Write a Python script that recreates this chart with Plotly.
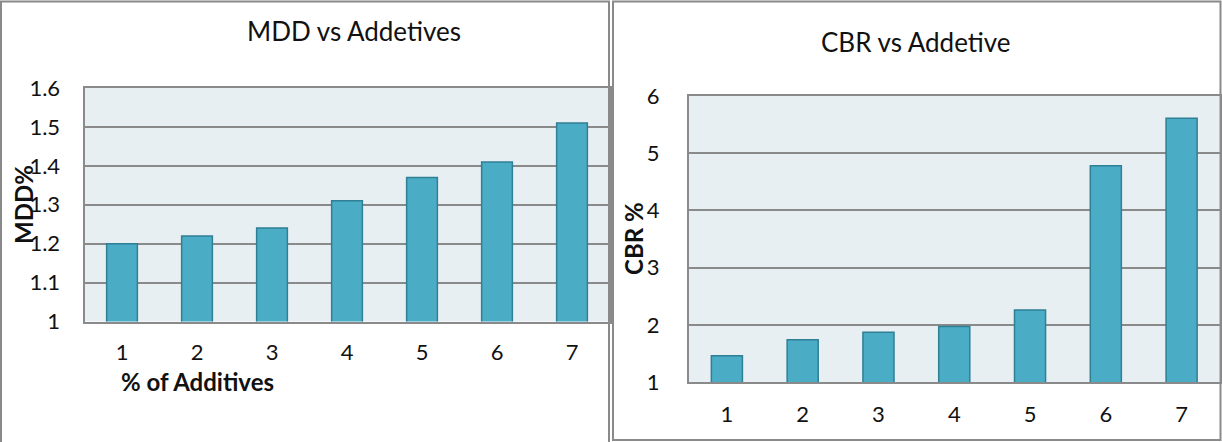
import plotly.graph_objects as go

W, H = 1222, 442

categories = [1, 2, 3, 4, 5, 6, 7]
tick_labels = ["1", "2", "3", "4", "5", "6", "7"]
mdd_values = [1.20, 1.22, 1.24, 1.31, 1.37, 1.41, 1.51]
cbr_values = [1.46, 1.74, 1.87, 1.97, 2.26, 4.78, 5.61]
mdd_yticks = [1, 1.1, 1.2, 1.3, 1.4, 1.5, 1.6]
mdd_yticklabels = ["1", "1.1", "1.2", "1.3", "1.4", "1.5", "1.6"]
cbr_yticks = [1, 2, 3, 4, 5, 6]
cbr_yticklabels = ["1", "2", "3", "4", "5", "6"]

FONT = "Lato"
BAR_FILL = "#4BACC6"
BAR_LINE = "#2F7F95"
GRID = "#8A8A8A"
PLOT_BG = "#E8EFF3"


def px(x):
    return x / W


def py(y):
    return 1 - y / H


fig = go.Figure()
fig.add_trace(go.Bar(x=categories, y=mdd_values, width=0.41,
                     marker=dict(color=BAR_FILL, line=dict(color=BAR_LINE, width=1.5)),
                     xaxis="x", yaxis="y", hoverinfo="x+y"))
fig.add_trace(go.Bar(x=categories, y=cbr_values, width=0.41,
                     marker=dict(color=BAR_FILL, line=dict(color=BAR_LINE, width=1.5)),
                     xaxis="x2", yaxis="y2", hoverinfo="x+y"))

tickfont = dict(family=FONT, size=22, color="#111111")

common_x = dict(range=[0.5, 7.5], tickmode="array", tickvals=categories, ticktext=tick_labels,
                showgrid=False, zeroline=False, showline=True, linecolor=GRID, linewidth=2,
                mirror=True, tickfont=tickfont, ticks="", fixedrange=True, automargin=False)
common_y = dict(tickmode="array", showgrid=True, gridcolor=GRID, gridwidth=2,
                zeroline=False, showline=True, linecolor=GRID, linewidth=2, mirror=True,
                tickfont=tickfont, ticks="", fixedrange=True, automargin=False)

fig.update_layout(
    width=W, height=H,
    margin=dict(l=0, r=0, t=0, b=0, pad=0, autoexpand=False),
    paper_bgcolor="white",
    plot_bgcolor=PLOT_BG,
    showlegend=False,
    bargap=0.59,
    xaxis=dict(domain=[px(84.5), px(609.5)], anchor="y", ticklabelstandoff=10, **common_x),
    yaxis=dict(domain=[py(321.5), py(88)], anchor="x", range=[1, 1.6],
               tickvals=mdd_yticks, ticktext=mdd_yticklabels, ticklabelstandoff=18, **common_y),
    xaxis2=dict(domain=[px(689), px(1219.5)], anchor="y2", ticklabelstandoff=12, **common_x),
    yaxis2=dict(domain=[py(382), py(96)], anchor="x2", range=[1, 6],
                tickvals=cbr_yticks, ticktext=cbr_yticklabels, ticklabelstandoff=23, **common_y),
)

# panel borders
fig.add_shape(type="rect", xref="paper", yref="paper",
              x0=px(1), x1=px(609), y0=py(460), y1=py(1.5),
              line=dict(color=GRID, width=2), fillcolor="rgba(0,0,0,0)", layer="above")
fig.add_shape(type="rect", xref="paper", yref="paper",
              x0=px(613), x1=px(1220.5), y0=py(440), y1=py(1.5),
              line=dict(color=GRID, width=2), fillcolor="rgba(0,0,0,0)", layer="above")

# titles and axis titles
fig.add_annotation(text="MDD vs Addetives", xref="paper", yref="paper", x=px(354), y=py(31),
                   showarrow=False, xanchor="center", yanchor="middle",
                   font=dict(family=FONT, size=26, color="#111111"))
fig.add_annotation(text="CBR vs Addetive", xref="paper", yref="paper", x=px(916), y=py(42),
                   showarrow=False, xanchor="center", yanchor="middle",
                   font=dict(family=FONT, size=26, color="#111111"))
fig.add_annotation(text="<b>% of Additives</b>", xref="paper", yref="paper", x=px(198), y=py(381),
                   showarrow=False, xanchor="center", yanchor="middle",
                   font=dict(family=FONT, size=24, color="#111111"))
fig.add_annotation(text="<b>MDD%</b>", xref="paper", yref="paper", x=px(23), y=py(205),
                   showarrow=False, xanchor="center", yanchor="middle", textangle=-90,
                   font=dict(family=FONT, size=24, color="#111111"))
fig.add_annotation(text="<b>CBR %</b>", xref="paper", yref="paper", x=px(634), y=py(239),
                   showarrow=False, xanchor="center", yanchor="middle", textangle=-90,
                   font=dict(family=FONT, size=24, color="#111111"))

fig.write_html("out.html")
